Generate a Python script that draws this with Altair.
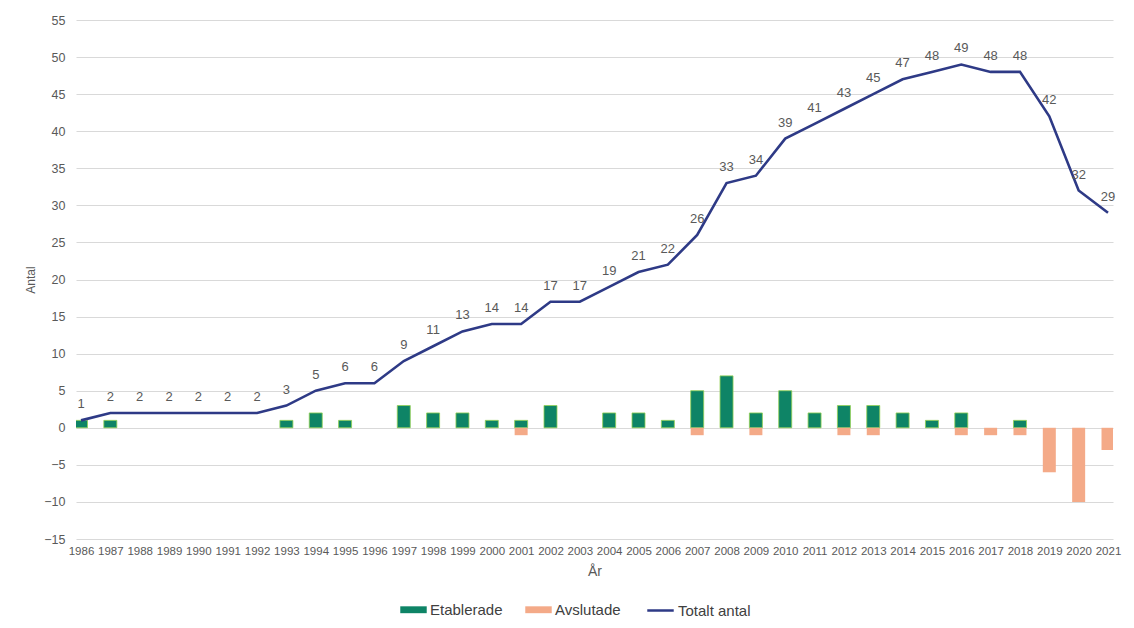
import altair as alt
import pandas as pd

years = list(range(1986, 2022))
etablerade = [1, 1, 0, 0, 0, 0, 0, 1, 2, 1, 0, 3, 2, 2, 1, 1, 3, 0, 2, 2, 1, 5, 7, 2, 5, 2, 3, 3, 2, 1, 2, 0, 1, 0, 0, 0]
avslutade = [0] * 15 + [-1] + [0] * 5 + [-1, 0, -1, 0, 0, -1, -1, 0, 0, -1, -1, -1, -6, -10, -3]
totalt = [1, 2, 2, 2, 2, 2, 2, 3, 5, 6, 6, 9, 11, 13, 14, 14, 17, 17, 19, 21, 22, 26, 33, 34, 39, 41,
          43, 45, 47, 48, 49, 48, 48, 42, 32, 29]

df_e = pd.DataFrame({"year": years, "value": etablerade, "serie": "Etablerade"})
df_e = df_e[df_e["value"] != 0]
df_a = pd.DataFrame({"year": years, "value": avslutade, "serie": "Avslutade"})
df_a = df_a[df_a["value"] != 0]
df_t = pd.DataFrame({"year": years, "value": totalt, "serie": "Totalt antal"})

GRAY = "#595959"

x = alt.X(
    "year:Q",
    scale=alt.Scale(domain=[1986, 2021], nice=False, zero=False),
    axis=alt.Axis(values=years, format="d", labelOverlap=False, grid=False, domain=False,
                  ticks=False, title="År", labelFontSize=11.5, labelPadding=6,
                  titlePadding=8, titleFontSize=14, labelColor=GRAY, titleColor=GRAY,
                  titleFontWeight="normal"),
)
y = alt.Y(
    "value:Q",
    scale=alt.Scale(domain=[-15, 55], nice=False, zero=False),
    axis=alt.Axis(values=list(range(-15, 60, 5)), title="Antal", grid=True, gridColor="#D9D9D9",
                  domain=False, ticks=False, labelPadding=11, labelFontSize=12.5,
                  titlePadding=6, titleFontSize=12, labelColor=GRAY, titleColor=GRAY,
                  titleFontWeight="normal"),
)

color = alt.Color(
    "serie:N",
    scale=alt.Scale(domain=["Etablerade", "Avslutade"], range=["#0E8466", "#F4AA88"]),
    legend=alt.Legend(orient="none", legendX=324, legendY=576, direction="horizontal", title=None,
                      symbolType="M-1,-0.26H1V0.26H-1Z", symbolSize=700, labelFontSize=15,
                      columnPadding=22, labelOffset=3, labelColor="#404040", padding=0,
                      symbolStrokeWidth=0),
)

bars_e = alt.Chart(df_e).mark_bar(size=13, clip=True, stroke="#92D050", strokeWidth=0.8).encode(
    x=x, y=y, color=color)
bars_a = alt.Chart(df_a).mark_bar(size=13, clip=True).encode(x=x, y=y, color=color)

line = alt.Chart(df_t).mark_line(strokeWidth=2.6).encode(
    x=x, y=y,
    stroke=alt.Stroke(
        "serie:N",
        scale=alt.Scale(domain=["Totalt antal"], range=["#2E3A86"]),
        legend=alt.Legend(orient="none", legendX=570, legendY=576, title=None, symbolType="stroke",
                          symbolSize=700, symbolStrokeWidth=2.5, labelFontSize=15, labelOffset=3,
                          labelColor="#404040", padding=0),
    ),
)

labels = alt.Chart(df_t).mark_text(dy=-16, fontSize=13, color=GRAY, baseline="middle").encode(
    x=x, y=y, text="value:Q")

chart = alt.layer(bars_e, bars_a, line, labels).properties(
    width=1037, height=519,
    autosize=alt.AutoSizeParams(type="none"),
    padding={"left": 68, "top": 12, "right": 13, "bottom": 81},
).configure(font="Liberation Sans").configure_view(stroke=None)

chart.save("out.html", embed_options={"renderer": "svg", "actions": False})
